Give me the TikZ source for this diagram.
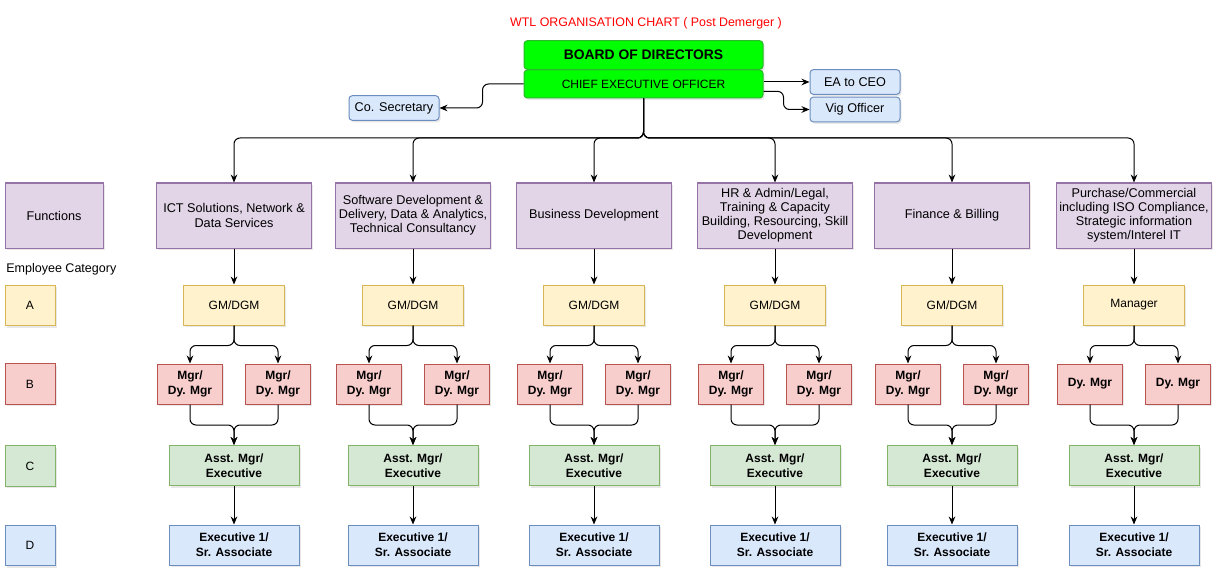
\documentclass[tikz,border=0pt]{standalone}
\usepackage{fontspec}
\setmainfont{Liberation Sans}
\usepackage{xcolor}
\usepackage{tikz}
\usetikzlibrary{positioning, arrows.meta, shadows}

\definecolor{purpfill}{HTML}{E1D5E7}
\definecolor{purpline}{HTML}{9673A6}
\definecolor{yellfill}{HTML}{FFF2CC}
\definecolor{yellline}{HTML}{D6B656}
\definecolor{redfill}{HTML}{F8CECC}
\definecolor{redline}{HTML}{B85450}
\definecolor{grnfill}{HTML}{D5E8D4}
\definecolor{grnline}{HTML}{82B366}
\definecolor{bluefill}{HTML}{DAE8FC}
\definecolor{blueline}{HTML}{6C8EBF}
\definecolor{boardfill}{HTML}{00FF00}
\definecolor{boardline}{HTML}{2DB82D}

\tikzset{
  box/.style={draw, line width=0.75pt, align=center, inner sep=1pt,
    font=\fontsize{9}{11}\selectfont,
    drop shadow={shadow xshift=1.2pt, shadow yshift=-1.5pt, opacity=0.18}},
  func/.style={box, fill=purpfill, draw=purpline, minimum width=116.25pt,
    minimum height=48.75pt, font=\fontsize{9.5}{10.6}\selectfont},
  cat/.style={box, minimum width=37.5pt, minimum height=30.5pt},
  gmbox/.style={box, fill=yellfill, draw=yellline, minimum width=75.75pt, minimum height=30pt},
  mgrbox/.style={box, fill=redfill, draw=redline, minimum width=48.75pt, minimum height=30pt,
    font=\fontsize{9}{11}\selectfont\bfseries},
  asstbox/.style={box, fill=grnfill, draw=grnline, minimum width=97.5pt, minimum height=30pt,
    font=\fontsize{9}{11}\selectfont\bfseries},
  execbox/.style={box, fill=bluefill, draw=blueline, minimum width=97.5pt, minimum height=30pt,
    font=\fontsize{9}{11}\selectfont\bfseries},
  board/.style={box, fill=boardfill, draw=boardline, rounded corners=2.5pt,
    minimum width=179.25pt, minimum height=21.5pt},
  staff/.style={box, fill=bluefill, draw=blueline, rounded corners=2.5pt,
    minimum width=67.5pt, minimum height=18.5pt, font=\fontsize{9.5}{11}\selectfont},
  arr/.style={-{Stealth[length=6pt, width=5pt]}, line width=0.75pt, rounded corners=4.5pt},
}

\begin{document}
\begin{tikzpicture}[x=0.75pt, y=-0.75pt]
  \useasboundingbox (0,0) rectangle (1220,574);

  % top of the chart
  \node[text=red, font=\fontsize{9.3}{10}\selectfont] (title) at (646,23)
    {WTL ORGANISATION CHART ( Post Demerger )};
  \node[board, font=\fontsize{10.4}{12}\selectfont\bfseries] (bod) at (643.5,55) {BOARD OF DIRECTORS};
  \node[board, minimum height=21pt] (ceo) at (643.5,84) {CHIEF EXECUTIVE OFFICER};
  \node[staff] (ea) at (855,82) {EA to CEO};
  \node[staff] (vig) at (855,109.5) {Vig Officer};
  \node[staff] (cosec) at (394,108) {Co. Secretary};

  \draw[arr] (ceo.west) -- ++(-41,0) |- (cosec.east);
  \draw[arr] (ceo.east |- ea.west) -- (ea.west);
  \draw[arr] ([yshift=-5.5pt]ceo.east) -- ++(20,0) |- (vig.west);

  % category column
  \node[func, minimum width=73.5pt] (funcs) at (54,215.5) {Functions};
  \node[anchor=west, inner sep=0pt, font=\fontsize{9.4}{10}\selectfont] (empcat) at (6,269) {Employee Category};
  \node[cat, fill=yellfill, draw=yellline] (catA) at (30,305.5) {A};
  \node[cat, fill=redfill, draw=redline] (catB) at (30,384) {B};
  \node[cat, fill=grnfill, draw=grnline] (catC) at (30,466) {C};
  \node[cat, fill=bluefill, draw=blueline] (catD) at (30,545.5) {D};

  \coordinate (bus) at (643.5,138);

  % one column per function
  \foreach \i/\x/\ftext/\atext/\btext in {
      1/234/{ICT Solutions, Network \&\\Data Services}/{GM/DGM}/{Mgr/\\Dy. Mgr},
      2/413/{Software Development \&\\Delivery, Data \& Analytics,\\Technical Consultancy}/{GM/DGM}/{Mgr/\\Dy. Mgr},
      3/594/{Business Development}/{GM/DGM}/{Mgr/\\Dy. Mgr},
      4/775/{HR \& Admin/Legal,\\Training \& Capacity\\Building, Resourcing, Skill\\Development}/{GM/DGM}/{Mgr/\\Dy. Mgr},
      5/952/{Finance \& Billing}/{GM/DGM}/{Mgr/\\Dy. Mgr},
      6/1134/{Purchase/Commercial\\including ISO Compliance,\\Strategic information\\system/Interel IT}/{Manager}/{Dy. Mgr}} {
    \node[func] (f\i) at (\x,215.5) {\ftext};
    \node[gmbox] (gm\i) at (\x,305) {\atext};
    \node[mgrbox] (ml\i) at (\x-44,384) {\btext};
    \node[mgrbox] (mr\i) at (\x+44,384) {\btext};
    \node[asstbox] (as\i) at (\x,465.5) {Asst. Mgr/\\Executive};
    \node[execbox] (ex\i) at (\x,545) {Executive 1/\\Sr. Associate};

    \draw[arr] (ceo.south) -- (bus) -| (f\i.north);
    \draw[arr] (f\i.south) -- (gm\i.north);
    \draw[arr] (gm\i.south) -- ++(0,20) -| (ml\i.north);
    \draw[arr] (gm\i.south) -- ++(0,20) -| (mr\i.north);
    \draw[arr] (ml\i.south) |- (\x,425) -- (as\i.north);
    \draw[arr] (mr\i.south) |- (\x,425) -- (as\i.north);
    \draw[arr] (as\i.south) -- (ex\i.north);
  }
\end{tikzpicture}
\end{document}
